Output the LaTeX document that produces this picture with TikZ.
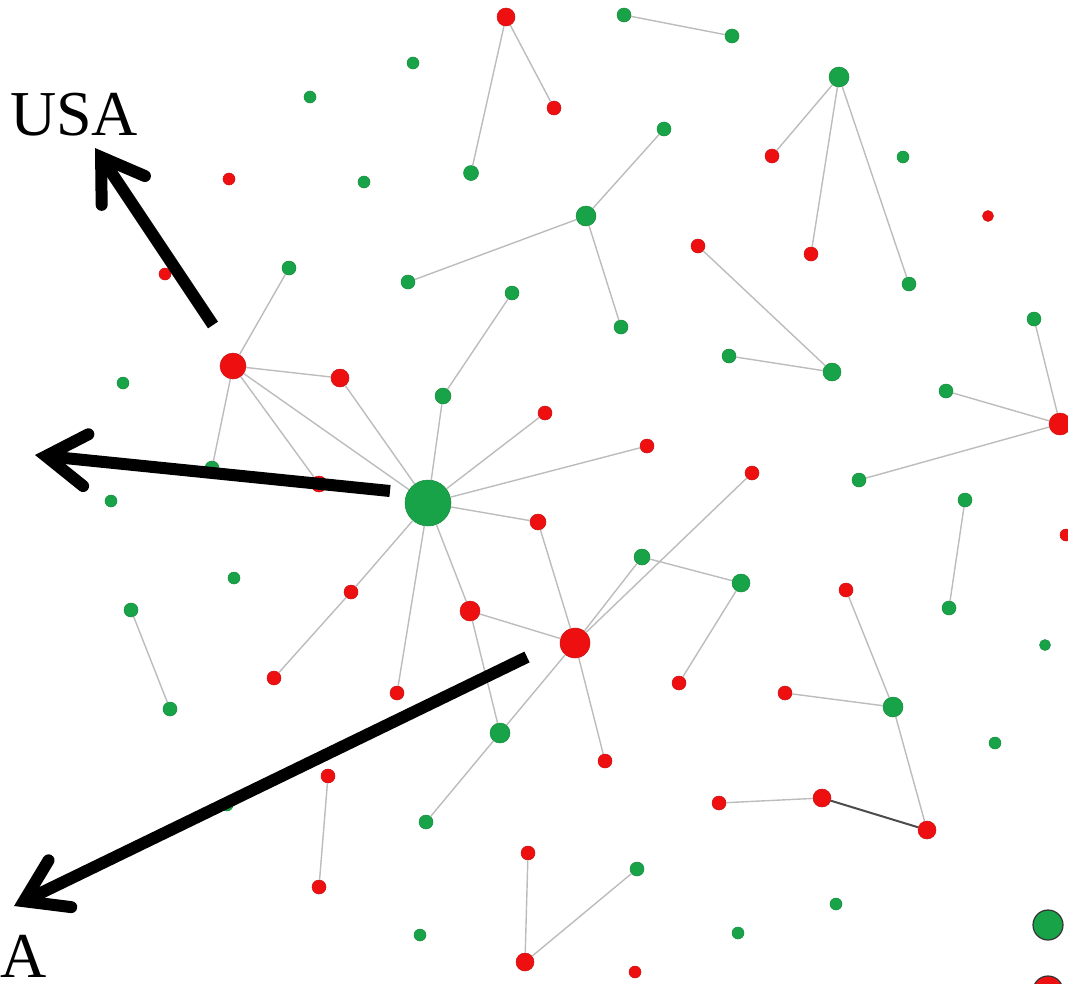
\documentclass[tikz,border=0pt]{standalone}
\usepackage{fontspec}
\setmainfont{Liberation Serif}
\usetikzlibrary{arrows.meta}

\definecolor{netgreen}{RGB}{24,163,72}
\definecolor{netred}{RGB}{238,16,16}
\definecolor{linkgray}{RGB}{188,188,188}

\begin{document}
\begin{tikzpicture}[
            x=1pt, y=-1pt,
            every node/.style={circle, inner sep=0pt},
            gn/.style={fill=netgreen, draw=netgreen!85!black, line width=0.5pt, minimum size=#1},
            gn/.default=14pt,
            rn/.style={fill=netred, draw=netred!85!black, line width=0.5pt, minimum size=#1},
            rn/.default=14pt,
            link/.style={draw=linkgray, line width=1.4pt},
            pointer/.style={line width=12pt, -{Straight Barb[length=40pt, width=52pt, line cap=round]}},
            bigtext/.style={rectangle, font=\fontsize{64}{64}\selectfont}
            ]
        \useasboundingbox (0,0) rectangle (1068,983);

        % green nodes
        \node[gn=12pt] (g1) at (310,97) {};
        \node[gn=12pt] (g2) at (364,182) {};
        \node[gn] (g3) at (289,268) {};
        \node[gn=12pt] (g4) at (413,63) {};
        \node[gn=15pt] (g5) at (471,173) {};
        \node[gn] (g6) at (624,15) {};
        \node[gn] (g7) at (732,36) {};
        \node[gn] (g8) at (664,129) {};
        \node[gn=20pt] (g9) at (586,216) {};
        \node[gn] (g10) at (408,282) {};
        \node[gn] (g11) at (512,293) {};
        \node[gn] (g12) at (621,327) {};
        \node[gn=20pt] (g13) at (839,77) {};
        \node[gn=12pt] (g14) at (903,157) {};
        \node[gn] (g15) at (909,284) {};
        \node[gn] (g16) at (1034,319) {};
        \node[gn] (g17) at (729,356) {};
        \node[gn=18pt] (g18) at (832,372) {};
        \node[gn] (g19) at (946,391) {};
        \node[gn=16pt] (g20) at (443,396) {};
        \node[gn=12pt] (g21) at (123,383) {};
        \node[gn] (g22) at (212,468) {};
        \node[gn=12pt] (g23) at (111,501) {};
        \node[gn=46pt] (hub) at (428,503) {};
        \node[gn] (g25) at (859,480) {};
        \node[gn] (g26) at (965,500) {};
        \node[gn=16pt] (g27) at (642,557) {};
        \node[gn=18pt] (g28) at (741,583) {};
        \node[gn=12pt] (g29) at (234,578) {};
        \node[gn] (g30) at (131,610) {};
        \node[gn] (g31) at (949,608) {};
        \node[gn=11pt] (g32) at (1045,645) {};
        \node[gn] (g33) at (170,709) {};
        \node[gn=20pt] (g34) at (500,733) {};
        \node[gn=20pt] (g35) at (893,707) {};
        \node[gn=12pt] (g36) at (995,743) {};
        \node[gn=12pt] (g37) at (227,805) {};
        \node[gn] (g38) at (426,822) {};
        \node[gn] (g39) at (637,869) {};
        \node[gn=12pt] (g40) at (836,904) {};
        \node[gn=12pt] (g41) at (738,933) {};
        \node[gn=12pt] (g42) at (420,935) {};

        % red nodes
        \node[rn=18pt] (r1) at (506,17) {};
        \node[rn] (r2) at (554,108) {};
        \node[rn=12pt] (r3) at (229,179) {};
        \node[rn] (r4) at (772,156) {};
        \node[rn=11pt] (r5) at (988,216) {};
        \node[rn] (r6) at (698,246) {};
        \node[rn] (r7) at (811,254) {};
        \node[rn=12pt] (r8) at (165,274) {};
        \node[rn=26pt] (r9) at (233,366) {};
        \node[rn=18pt] (r10) at (340,378) {};
        \node[rn] (r11) at (545,413) {};
        \node[rn=22pt] (r12) at (1060,424) {};
        \node[rn] (r13) at (647,446) {};
        \node[rn] (r14) at (752,473) {};
        \node[rn=16pt] (r15) at (319,484) {};
        \node[rn=16pt] (r16) at (538,522) {};
        \node[rn=12pt] (r17) at (1066,535) {};
        \node[rn] (r18) at (351,592) {};
        \node[rn] (r19) at (846,590) {};
        \node[rn=20pt] (r20) at (470,611) {};
        \node[rn=30pt] (r21) at (575,643) {};
        \node[rn] (r22) at (274,678) {};
        \node[rn] (r23) at (679,683) {};
        \node[rn] (r24) at (397,693) {};
        \node[rn] (r25) at (785,693) {};
        \node[rn] (r26) at (605,761) {};
        \node[rn] (r27) at (328,776) {};
        \node[rn] (r28) at (719,803) {};
        \node[rn=18pt] (r29) at (822,798) {};
        \node[rn=18pt] (r30) at (927,830) {};
        \node[rn] (r31) at (528,853) {};
        \node[rn] (r32) at (319,887) {};
        \node[rn=18pt] (r33) at (525,962) {};
        \node[rn=12pt] (r34) at (635,972) {};

        % legend markers
        \node[fill=netgreen, draw=black!80, line width=1.2pt, minimum size=30pt] (keygreen) at (1048,925) {};
        \node[fill=netred, draw=black!80, line width=1.2pt, minimum size=30pt] (keyred) at (1048,991) {};

        % links
        \draw[link] (r1) -- (r2) (r1) -- (g5) (g6) -- (g7);
        \draw[link] (g9) -- (g8) (g9) -- (g10) (g9) -- (g12) (g11) -- (g20);
        \draw[link] (g13) -- (r4) (g13) -- (r7) (g13) -- (g15);
        \draw[link] (r6) -- (g18) (g17) -- (g18);
        \draw[link] (g19) -- (r12) (g16) -- (r12) (g25) -- (r12) (g26) -- (g31);
        \draw[link] (r9) -- (g3) (r9) -- (r10) (r9) -- (g22) (r9) -- (r15) (r9) -- (hub);
        \draw[link] (hub) -- (r10) (hub) -- (g20) (hub) -- (r11) (hub) -- (r13) (hub) -- (r16);
        \draw[link] (hub) -- (r20) (hub) -- (r24) (hub) -- (r18) (r18) -- (r22);
        \draw[link] (g30) -- (g33) (r27) -- (r32);
        \draw[link] (r16) -- (r21) (r20) -- (r21) (r20) -- (g34) (r21) -- (g34) (g34) -- (g38);
        \draw[link] (r21) -- (g27) (r21) -- (r14) (r21) -- (r26) (g27) -- (g28) (g28) -- (r23);
        \draw[link] (r19) -- (g35) (r25) -- (g35) (g35) -- (r30) (r28) -- (r29);
        \draw[black!70, line width=2pt] (r29) -- (r30);
        \draw[link] (g39) -- (r33) (r31) -- (r33);

        % labels and pointers
        \node[bigtext, anchor=base west] (usa) at (10,135) {USA};
        \node[bigtext, anchor=base west] (alabel) at (0,977) {A};
        \coordinate (usafrom) at (213,325);
        \coordinate (usato) at (95,148);
        \coordinate (leftfrom) at (390,491);
        \coordinate (leftto) at (35,455);
        \coordinate (afrom) at (527,657);
        \coordinate (ato) at (14,906);
        \draw[pointer] (usafrom) -- (usato);
        \draw[pointer] (leftfrom) -- (leftto);
        \draw[pointer] (afrom) -- (ato);
        \end{tikzpicture}
\end{document}
